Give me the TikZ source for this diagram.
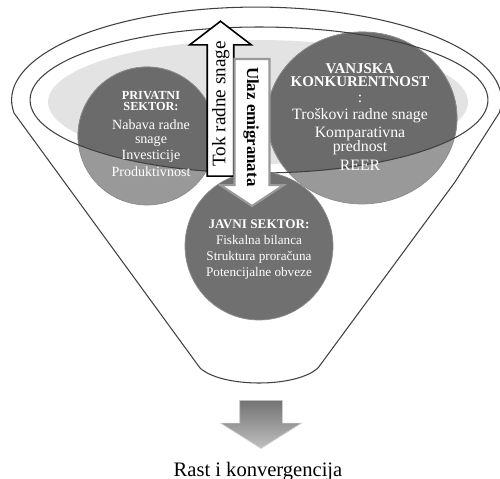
\documentclass[tikz,border=0pt]{standalone}
\usepackage{fontspec}
\setmainfont{Liberation Serif}
\usetikzlibrary{shapes.geometric,shapes.arrows}

\begin{document}
\begin{tikzpicture}[x=0.02cm, y=-0.02cm,
	kreis/.style={ellipse, inner sep=0pt, draw=black!45, line width=0.4pt},
	kreistext/.style={text=white, align=center, inner sep=0pt, anchor=north},
	pfeil/.style={single arrow, inner xsep=0pt, text height=7.5pt, text depth=2pt, fill=white, anchor=tail}]

\useasboundingbox (0,0) rectangle (500,479);

%% Trichter
\draw[black!75, line width=0.6pt] (14,113) arc[start angle=188, end angle=-8, x radius=4.9cm, y radius=1.86cm]
	-- (455,182) -- (318,368) .. controls (296,388) and (222,388) .. (200,368) -- cycle;
\fill[black!11] (258,102) ellipse[x radius=4.2cm, y radius=1.24cm];
%%%%%%%%%%%%%%%%

%% Kreise
\node[kreis, fill=black!56, minimum width=2.96cm, minimum height=2.96cm] (javni) at (259,246) {};
\node[kreis, fill=black!40, minimum width=2.76cm, minimum height=2.76cm] (privatni) at (147,136) {};
\node[kreis, fill=black!40, minimum width=3.8cm, minimum height=3.44cm] (vanjska) at (362,118) {};
\begin{scope}
	\clip (-10,100) -- (-10,-10) -- (510,-10) -- (510,100) -- (488,100)
		arc[start angle=0, end angle=-180, x radius=4.58cm, y radius=1.46cm] -- cycle;
	\filldraw[fill=black!58, draw=black!45, line width=0.4pt] (privatni.center) circle[radius=1.38cm];
	\filldraw[fill=black!58, draw=black!45, line width=0.4pt] (vanjska.center) ellipse[x radius=1.9cm, y radius=1.72cm];
\end{scope}
\draw[black!75, line width=0.6pt] (259,100) ellipse[x radius=4.58cm, y radius=1.46cm];
%%%%%%%%%%%%%%%%

%% Texte in den Kreisen
\node[kreistext, font=\fontsize{8}{8}\selectfont] (privatnitext) at (151,91)
	{{\bfseries\fontsize{7}{7}\selectfont PRIVATNI}\\[-1.5pt]{\bfseries\fontsize{7}{7}\selectfont SEKTOR:}\\[2.6pt]
	Nabava radne\\snage\\[0.9pt]Investicije\\[1.6pt]Produktivnost};
\node[kreistext, font=\fontsize{9}{9}\selectfont] (vanjskatext) at (360,63)
	{{\bfseries\fontsize{8.5}{8.5}\selectfont VANJSKA}\\[-1.3pt]{\bfseries\fontsize{8.5}{8.5}\selectfont KONKURENTNOST}\\[-0.2pt]
	:\\[0.8pt]Troškovi radne snage\\[1.2pt]Komparativna\\[-1.1pt]prednost\\[1.8pt]REER};
\node[kreistext, font=\fontsize{7.5}{9}\selectfont] (javnitext) at (259,219)
	{{\bfseries JAVNI SEKTOR:}\\[0.6pt]Fiskalna bilanca\\Struktura proračuna\\Potencijalne obveze};
%%%%%%%%%%%%%%%%

%% Pfeile
\node[pfeil, rotate=90, draw=black, line width=0.9pt, font=\fontsize{10.9}{10.9}\selectfont,
	inner ysep=2.35pt, minimum height=3.1cm, single arrow head extend=0.35cm,
	single arrow tip angle=105] (tok) at (220.5,177) {Tok radne snage};
\node[pfeil, rotate=-90, draw=black!40, line width=1.2pt, font=\bfseries\fontsize{9.6}{9.6}\selectfont,
	inner ysep=4.6pt, minimum height=2.94cm, single arrow head extend=0.28cm,
	single arrow tip angle=113] (ulaz) at (252,58) {Ulaz emigranata};

\node[single arrow, rotate=-90, anchor=tail, inner xsep=0pt, inner ysep=0.42cm,
	minimum height=0.96cm, single arrow head extend=0.38cm, single arrow tip angle=116,
	top color=black!55, bottom color=black!25, draw=black!20] (rastpfeil) at (261,400) {};
\node[font=\fontsize{11.7}{11.7}\selectfont, anchor=base] (rast) at (258,476) {Rast i konvergencija};

\end{tikzpicture}
\end{document}
